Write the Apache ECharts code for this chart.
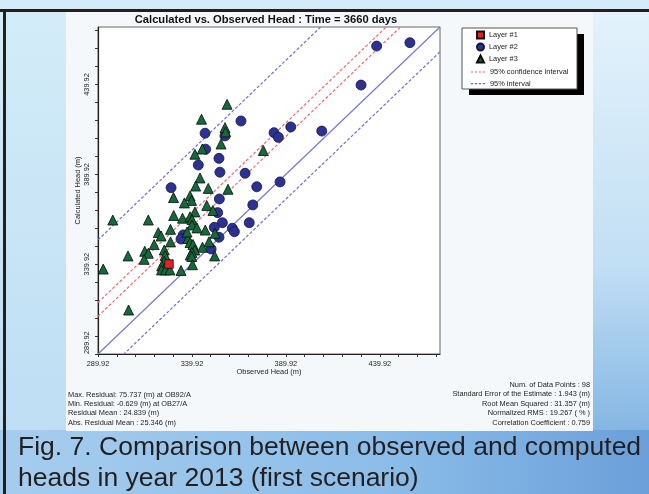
<!DOCTYPE html>
<html>
<head>
<meta charset="utf-8">
<script src="https://cdn.jsdelivr.net/npm/echarts@6/dist/echarts.min.js"></script>
<style>
  html, body { margin: 0; padding: 0; }
  #chart { width: 649px; height: 494px; }
</style>
</head>
<body>
<div id="chart"></div>
<script>
// 坐标轴范围与主刻度
const axisMin = 289.92;
const axisMax = 471.92;
const majorTicks = [289.92, 339.92, 389.92, 439.92];

// 各层数据 [观测水头, 计算水头]
const layer1 = [[327.7, 340.0]];
const layer2 = [
    [455.9, 463.2], [438.2, 461.3], [429.9, 439.6], [383.6, 413.1], [385.9, 410.5],
    [392.5, 416.3], [409.0, 414.0], [374.4, 383.0], [386.8, 385.7], [372.3, 372.9],
    [366.0, 419.6], [346.9, 412.8], [357.5, 411.3], [347.2, 403.9], [354.3, 398.8],
    [343.3, 395.1], [354.8, 391.1], [368.2, 390.5], [328.8, 382.5], [354.5, 376.2],
    [353.6, 368.6], [356.1, 363.0], [370.4, 363.0], [361.4, 359.9], [362.5, 358.0],
    [351.8, 360.4], [354.3, 354.9], [335.3, 356.2], [334.1, 353.9], [350.1, 348.4]
];
const layer3 = [
    [358.6, 428.9], [345.0, 420.6], [357.5, 415.9], [357.8, 413.5], [355.4, 406.8],
    [345.4, 404.0], [341.5, 401.1], [377.9, 403.2], [344.2, 387.9], [341.9, 383.4],
    [348.6, 382.1], [359.1, 381.6], [330.1, 377.0], [338.9, 377.9], [339.7, 375.4],
    [335.9, 374.0], [347.8, 372.6], [351.1, 369.8], [341.5, 369.0], [330.2, 367.0],
    [334.9, 365.5], [338.9, 366.3], [339.9, 364.8], [297.8, 364.5], [316.7, 364.5],
    [339.9, 361.7], [328.5, 359.3], [347.0, 358.9], [322.0, 357.5], [323.5, 355.6],
    [337.8, 354.2], [338.9, 352.0], [340.5, 350.9], [328.5, 352.3], [319.8, 350.8],
    [352.2, 357.1], [349.0, 352.4], [345.5, 349.3], [341.4, 347.8], [339.9, 346.4],
    [339.0, 345.0], [325.2, 347.8], [314.8, 347.1], [316.7, 346.0], [305.9, 344.5],
    [314.5, 342.6], [325.6, 344.7], [339.8, 344.2], [352.0, 344.5], [325.2, 341.5],
    [323.8, 338.9], [326.1, 338.9], [323.7, 336.7], [325.8, 336.7], [328.2, 336.7],
    [292.7, 337.2], [334.1, 336.4], [340.2, 339.6], [306.2, 314.4], [337.3, 357.8],
    [342.6, 360.1]
];

// 1:1 线的偏移量 (m)
const confidenceOffsets = [21.03, 28.65];
const intervalOffsets = [-13.8, 63.5];

// 统计文字
const statsLeft = [
    'Max. Residual: 75.737 (m) at OB92/A',
    'Min. Residual: -0.629 (m) at OB27/A',
    'Residual Mean : 24.839 (m)',
    'Abs. Residual Mean : 25.346 (m)'
];
const statsRight = [
    'Num. of Data Points : 98',
    'Standard Error of the Estimate : 1.943 (m)',
    'Root Mean Squared : 31.357 (m)',
    'Normalized RMS : 19.267 ( % )',
    'Correlation Coefficient : 0.759'
];
const captionLines = [
    'Fig. 7. Comparison between observed and computed',
    'heads in year 2013 (first scenario)'
];

const FONT = 'Liberation Sans, Arial, sans-serif';
const SMALL = 7.4;
const DASH_ICON = 'path://M0,0h3v1.5h-3zM5,0h3v1.5h-3zM10,0h3v1.5h-3zM15,0h3v1.5h-3z';

// 次刻度位置（每 10 m）
const minorTicks = [];
for (let v = axisMin; v <= axisMax + 1e-6; v += 10) {
    minorTicks.push(+v.toFixed(2));
}

function offsetLine(off) {
    return [[axisMin, axisMin + off], [axisMax, axisMax + off]];
}

function makeAxis(isY) {
    return {
        type: 'value',
        min: axisMin,
        max: axisMax,
        name: isY ? 'Calculated Head (m)' : 'Observed Head (m)',
        nameLocation: 'middle',
        nameGap: isY ? 16.5 : 14.5,
        nameMoveOverlap: false,
        nameTextStyle: { fontSize: SMALL, color: '#222', fontFamily: FONT },
        axisLine: { show: true, onZero: false, lineStyle: { color: '#222', width: 1.2 } },
        axisTick: { show: true, customValues: minorTicks, length: 3, lineStyle: { color: '#333' } },
        axisLabel: {
            customValues: majorTicks,
            formatter: v => v.toFixed(2),
            fontSize: SMALL,
            color: '#222',
            fontFamily: FONT,
            rotate: isY ? 90 : 0,
            margin: isY ? 7.5 : 6.5,
            alignMinLabel: isY ? 'left' : null
        },
        splitLine: { show: false }
    };
}

const chart = echarts.init(document.getElementById('chart'));

const bgElements = [
    // 背景
    { type: 'rect', shape: { x: 0, y: 0, width: 649, height: 494 }, z: -20,
      style: { fill: new echarts.graphic.LinearGradient(0, 0, 0, 1, [
          { offset: 0, color: '#d3ecf8' }, { offset: 1, color: '#bcdcf3' }]) } },
    { type: 'rect', shape: { x: 593, y: 12, width: 56, height: 420 }, z: -19,
      style: { fill: new echarts.graphic.LinearGradient(0, 0, 0, 1, [
          { offset: 0, color: '#e3f2fb' }, { offset: 0.6, color: '#c2dff4' }, { offset: 1, color: '#84b6e3' }]) } },
    { type: 'rect', shape: { x: 0, y: 430, width: 649, height: 64 }, z: -19,
      style: { fill: new echarts.graphic.LinearGradient(0, 0, 1, 0, [
          { offset: 0, color: '#a6cdee' }, { offset: 0.6, color: '#8bbde9' }, { offset: 1, color: '#6b9fd9' }]) } },
    { type: 'rect', shape: { x: 0, y: 9, width: 649, height: 3 }, z: -18, style: { fill: '#231f20' } },
    { type: 'rect', shape: { x: 3, y: 9, width: 3, height: 485 }, z: -18, style: { fill: '#231f20' } },
    // 图表面板
    { type: 'rect', shape: { x: 66, y: 12, width: 527, height: 419 }, z: -17, style: { fill: '#f5f8fa' } },
    // 图例框与阴影
    { type: 'rect', shape: { x: 469, y: 34, width: 115, height: 61 }, z: 3, style: { fill: '#000' } },
    { type: 'rect', shape: { x: 462, y: 28, width: 115, height: 61 }, z: 3,
      style: { fill: '#fff', stroke: '#555', lineWidth: 1 } },
    // 标题
    { type: 'text', x: 266, y: 20, z: 5,
      style: { text: 'Calculated vs. Observed Head : Time = 3660 days', fontSize: 11.2, fontWeight: 'bold',
               fontFamily: FONT, fill: '#111', align: 'center', verticalAlign: 'middle' } }
];

statsLeft.forEach((t, i) => {
    bgElements.push({ type: 'text', x: 68, y: 395 + i * 9.2, z: 5,
        style: { text: t, fontSize: SMALL, fontFamily: FONT, fill: '#222', verticalAlign: 'middle' } });
});
statsRight.forEach((t, i) => {
    bgElements.push({ type: 'text', x: 590, y: 385 + i * 9.4, z: 5,
        style: { text: t, fontSize: SMALL, fontFamily: FONT, fill: '#222', align: 'right', verticalAlign: 'middle' } });
});
captionLines.forEach((t, i) => {
    bgElements.push({ type: 'text', x: 18, y: 448 + i * 31, z: 5,
        style: { text: t, fontSize: 26.5, fontFamily: FONT, fill: '#231f20', verticalAlign: 'middle' } });
});

const redDash = { color: '#f26a6a', width: 1.2, type: [3, 2] };
const blueDash = { color: '#6a6fd6', width: 1.2, type: [3, 2] };
const legendText = { fontSize: SMALL, color: '#222', fontFamily: FONT };

const option = {
    animation: false,
    textStyle: { fontFamily: FONT },
    graphic: { elements: bgElements },
    grid: {
        left: 98, top: 27, width: 342, height: 327,
        show: true, backgroundColor: '#ffffff', borderColor: '#666', borderWidth: 1
    },
    xAxis: makeAxis(false),
    yAxis: makeAxis(true),
    legend: [
        {
            data: ['Layer #1', 'Layer #2', 'Layer #3'],
            orient: 'vertical', left: 471, top: 25.5,
            itemWidth: 7, itemHeight: 7, itemGap: 3, z: 6,
            textStyle: legendText
        },
        {
            data: [
                { name: '95% confidence interval', icon: DASH_ICON },
                { name: '95% interval', icon: DASH_ICON }
            ],
            orient: 'vertical', left: 466, top: 63.5,
            itemWidth: 14, itemHeight: 7, itemGap: 4.6, z: 6,
            textStyle: legendText
        }
    ],
    series: [
        {
            name: '1:1', type: 'line', data: offsetLine(0), symbol: 'none', z: 2,
            lineStyle: { color: '#7579cc', width: 1.2 }
        },
        ...confidenceOffsets.map(off => ({
            name: '95% confidence interval', type: 'line', data: offsetLine(off), symbol: 'none', z: 2,
            lineStyle: redDash, itemStyle: { color: '#f26a6a' }
        })),
        ...intervalOffsets.map(off => ({
            name: '95% interval', type: 'line', data: offsetLine(off), symbol: 'none', z: 2,
            lineStyle: blueDash, itemStyle: { color: '#6a6fd6' }
        })),
        {
            name: 'Layer #1', type: 'scatter', data: layer1, symbol: 'rect', symbolSize: 8.5, z: 5,
            itemStyle: { color: '#e3202a', borderColor: '#111', borderWidth: 0.8, opacity: 1 }
        },
        {
            name: 'Layer #2', type: 'scatter', data: layer2, symbol: 'circle', symbolSize: 10, z: 3,
            itemStyle: { color: '#2c3192', borderColor: '#15173f', borderWidth: 0.8, opacity: 1 }
        },
        {
            name: 'Layer #3', type: 'scatter', data: layer3, symbol: 'triangle', symbolSize: 10, z: 4,
            itemStyle: { color: '#136b3b', borderColor: '#0a0a0a', borderWidth: 0.8, opacity: 1 }
        }
    ]
};

chart.setOption(option);
</script>
</body>
</html>
